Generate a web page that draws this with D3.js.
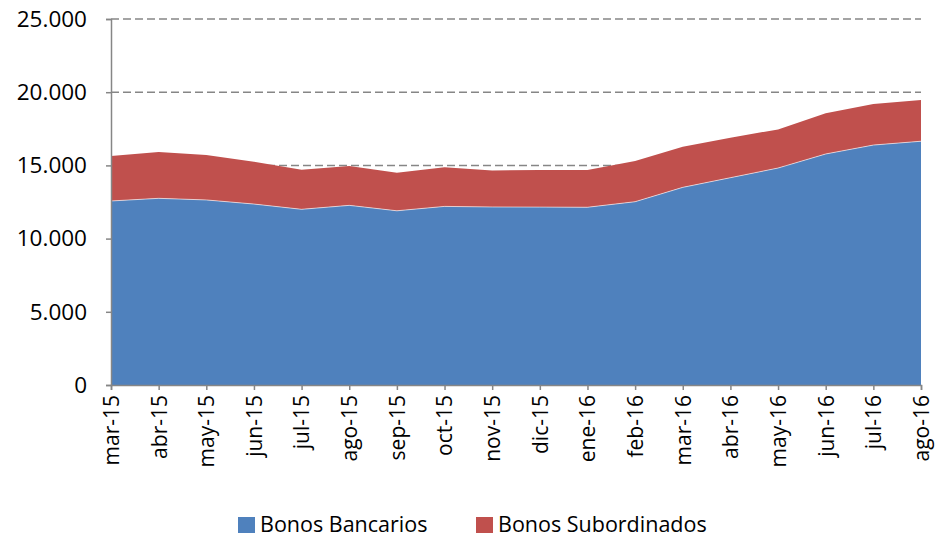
<!DOCTYPE html>
<html>
<head>
<meta charset="utf-8">
<script src="https://cdn.jsdelivr.net/npm/d3@7"></script>
<style>
  body { margin: 0; background: #fff; }
  svg { display: block; }
</style>
</head>
<body>
<div id="chart"></div>
<script>
// data
const months = ['mar-15', 'abr-15', 'may-15', 'jun-15', 'jul-15', 'ago-15', 'sep-15', 'oct-15', 'nov-15',
  'dic-15', 'ene-16', 'feb-16', 'mar-16', 'abr-16', 'may-16', 'jun-16', 'jul-16', 'ago-16'];
const bancarios = [12570, 12750, 12640, 12360, 12000, 12270, 11900, 12200, 12160,
  12150, 12140, 12520, 13500, 14160, 14820, 15780, 16390, 16650];
const subordinados = [3070, 3160, 3070, 2890, 2710, 2690, 2600, 2670, 2500,
  2530, 2550, 2780, 2780, 2730, 2640, 2780, 2800, 2820];
const yTicks = [0, 5000, 10000, 15000, 20000, 25000];
const seriesNames = ['Bonos Bancarios', 'Bonos Subordinados'];
const seriesColors = ['#4F81BD', '#C0504D'];

const width = 938, height = 537;
const margin = { top: 19, right: 17, bottom: 152, left: 111 };
const innerW = width - margin.left - margin.right;
const innerH = height - margin.top - margin.bottom;
const font = '"Open Sans", sans-serif';

const rows = months.map((m, i) => ({ month: m, b: bancarios[i], s: subordinados[i] }));
const stacked = d3.stack().keys(['b', 's'])(rows);

const svg = d3.select('#chart').append('svg')
  .attr('width', width)
  .attr('height', height);

const g = svg.append('g')
  .attr('transform', `translate(${margin.left},${margin.top})`);

const x = d3.scalePoint().domain(months).range([0, innerW]);
const y = d3.scaleLinear().domain([0, 25000]).range([innerH, 0]);

// dashed gridlines behind the areas
g.append('g')
  .selectAll('line')
  .data(yTicks.filter(d => d > 0))
  .enter().append('line')
  .attr('x1', 0)
  .attr('x2', innerW)
  .attr('y1', d => y(d))
  .attr('y2', d => y(d))
  .attr('stroke', '#868686')
  .attr('stroke-width', 1.5)
  .attr('stroke-dasharray', '8,4');

const area = d3.area()
  .x(d => x(d.data.month))
  .y0(d => y(d[0]))
  .y1(d => y(d[1]));

g.selectAll('.layer')
  .data(stacked)
  .enter().append('path')
  .attr('class', 'layer')
  .attr('d', area)
  .attr('fill', (d, i) => seriesColors[i]);

// thin light edge on top of the blue area
g.append('path')
  .datum(stacked[0])
  .attr('d', d3.line().x(d => x(d.data.month)).y(d => y(d[1])))
  .attr('fill', 'none')
  .attr('stroke', '#ffffff')
  .attr('stroke-opacity', 0.6)
  .attr('stroke-width', 1);

// axes
const yAxis = g.append('g')
  .call(d3.axisLeft(y).tickValues(yTicks).tickSizeOuter(0).tickSize(5)
    .tickFormat(d => d3.format(',')(d).replace(/,/g, '.')));
yAxis.select('.domain').attr('stroke', '#868686').attr('stroke-width', 1.5);
yAxis.selectAll('.tick line').attr('stroke', '#868686').attr('stroke-width', 1.5);
yAxis.selectAll('text')
  .attr('x', -24)
  .attr('fill', '#000')
  .attr('font-size', '22.5px')
  .attr('font-family', font);

const xAxis = g.append('g')
  .attr('transform', `translate(0,${innerH})`)
  .call(d3.axisBottom(x).tickSizeOuter(0).tickSize(5));
xAxis.select('.domain').attr('stroke', '#868686').attr('stroke-width', 1.5);
xAxis.selectAll('.tick line').attr('stroke', '#868686').attr('stroke-width', 1.5);
xAxis.selectAll('text')
  .attr('transform', 'rotate(-90)')
  .attr('x', -10)
  .attr('y', 0)
  .attr('dy', '0.35em')
  .attr('text-anchor', 'end')
  .attr('fill', '#000')
  .attr('font-size', '21px')
  .attr('font-family', font);

// legend
const legendX = [238, 476];
const legend = svg.append('g');
seriesNames.forEach((name, i) => {
  legend.append('rect')
    .attr('x', legendX[i])
    .attr('y', 517)
    .attr('width', 17)
    .attr('height', 16)
    .attr('fill', seriesColors[i]);
  legend.append('text')
    .attr('x', legendX[i] + 22)
    .attr('y', 532)
    .attr('font-size', '21.5px')
    .attr('font-family', font)
    .attr('fill', '#000')
    .text(name);
});
</script>
</body>
</html>
